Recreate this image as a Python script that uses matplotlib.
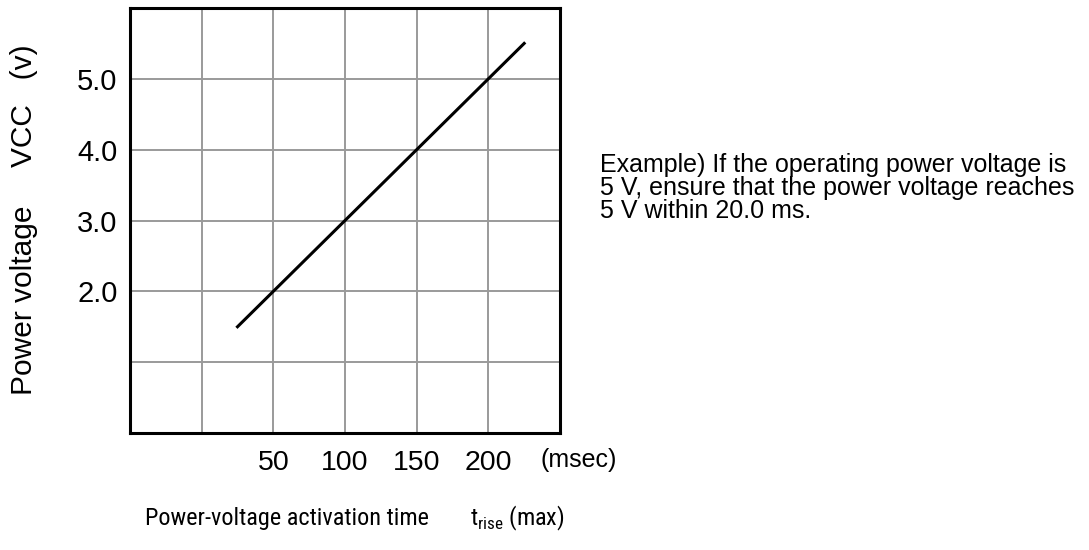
import matplotlib
matplotlib.use("Agg")
import matplotlib.pyplot as plt
from matplotlib import font_manager as fm

# Data
rise_time_ms = [25, 225]          # t_rise (max), msec
vcc_volts = [1.5, 5.5]            # power voltage, V
x_ticks = [50, 100, 150, 200]
x_tick_labels = ["50", "100", "150", "200"]
y_ticks = [2.0, 3.0, 4.0, 5.0]
y_tick_labels = ["2.0", "3.0", "4.0", "5.0"]
x_grid = [0, 50, 100, 150, 200]
y_grid = [1, 2, 3, 4, 5]

available = {f.name for f in fm.fontManager.ttflist}
cond = [n for n in ['Arial Narrow', 'Liberation Sans Narrow', 'Roboto Condensed',
                    'Archivo Narrow', 'PT Sans Narrow', 'Open Sans Condensed']
        if n in available]
NARROW = cond[:1] + ['Liberation Sans', 'DejaVu Sans']
REG = ['Liberation Sans', 'DejaVu Sans']
plt.rcParams['font.family'] = REG
plt.rcParams['mathtext.fontset'] = 'custom'
plt.rcParams['mathtext.rm'] = NARROW[0]

fig = plt.figure(figsize=(10.89, 5.5), dpi=100)
ax = fig.add_axes([130/1089, 1-433/550, 430/1089, 425/550])
ax.set_xlim(-50, 250)
ax.set_ylim(0, 6)

for gx in x_grid:
    ax.axvline(gx, color="#9a9a9a", lw=1.4, zorder=1)
for gy in y_grid:
    ax.axhline(gy, color="#9a9a9a", lw=1.4, zorder=1)

ax.plot(rise_time_ms, vcc_volts, color="black", lw=2.2, zorder=3)

for s in ax.spines.values():
    s.set_linewidth(2.2)
    s.set_color("black")

ax.set_xticks(x_ticks)
ax.set_xticklabels(x_tick_labels, fontsize=20.5, family=REG)
ax.set_yticks(y_ticks)
ax.set_yticklabels(y_tick_labels, fontsize=21, family=REG)
ax.tick_params(length=0)
ax.tick_params(axis='y', pad=9)
ax.tick_params(axis='x', pad=12)

fig.text(540/1089, 1-460/550, "(msec)", fontsize=18, family=REG, ha="left", va="center")
fig.text(145/1089, 1-518/550, "Power-voltage activation time", fontsize=17.5, family=NARROW,
         ha="left", va="center")
fig.text(470/1089, 1-518/550, r"t$_{\mathregular{rise}}$ (max)", fontsize=17.5, family=NARROW,
         ha="left", va="center")
fig.text(24/1089, 1-300/550, "Power voltage", fontsize=21.5, family=REG, rotation=90,
         ha="center", va="center")
fig.text(24/1089, 1-106/550, "VCC   (v)", fontsize=21.5, family=REG, rotation=90,
         ha="center", va="center")

fig.text(600/1089, 1-188/550,
         "Example) If the operating power voltage is\n5 V, ensure that the power voltage reaches\n5 V within 20.0 ms.",
         fontsize=18, family=REG, ha="left", va="center", linespacing=0.93)

fig.savefig("out.png", dpi=100)
